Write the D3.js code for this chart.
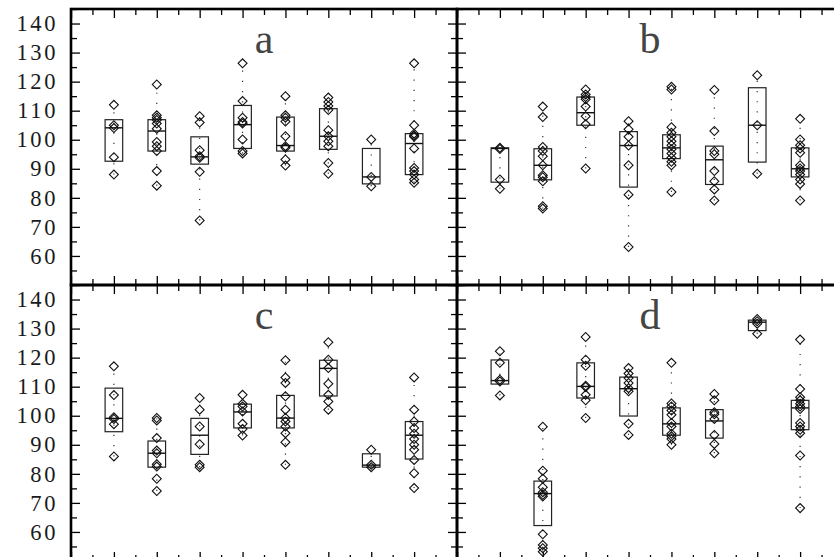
<!DOCTYPE html>
<html>
<head>
<meta charset="utf-8">
<script src="https://cdn.jsdelivr.net/npm/d3@7"></script>
<style>
  body { margin: 0; background: #fff; }
  svg { display: block; }
</style>
</head>
<body>
<script>
// categories along x, one box per category
var groups = [1, 2, 3, 4, 5, 6, 7, 8];
var panelNames = ["a", "b", "c", "d"];
var yTicks = [60, 70, 80, 90, 100, 110, 120, 130, 140];

// individual observations (diamonds), one list per category
var pointsA = [
  [112, 105, 104, 94, 88],
  [119, 108.4, 107.6, 106.8, 105.6, 103.8, 99.2, 97.8, 96.1, 89.2, 84.2],
  [108.1, 105.9, 96.4, 94.3, 93.8, 89.0, 72.2],
  [126.3, 113.3, 107.6, 106.1, 105.6, 100.1, 96.1, 95.3],
  [115.0, 108.4, 107.6, 106.3, 101.2, 97.8, 97.2, 93.2, 91.1],
  [114.5, 113.0, 111.6, 110.2, 103.3, 101.2, 99.5, 97.8, 92.0, 88.3],
  [100.1, 87.2, 84.0],
  [126.3, 105.0, 102.1, 101.5, 101.0, 97.0, 90.3, 89.2, 88.0, 86.3, 85.2]
];
var pointsB = [
  [97.2, 96.8, 86.3, 83.1],
  [111.4, 107.8, 97.5, 96.1, 94.3, 91.2, 87.8, 87.1, 85.7, 77.1, 76.3],
  [117.3, 115.6, 114.7, 113.9, 111.4, 108.1, 105.3, 90.1],
  [106.4, 103.6, 101.0, 98.0, 91.2, 81.1, 63.1],
  [118.2, 117.3, 104.3, 102.4, 101.0, 99.5, 98.1, 96.7, 95.3, 93.8, 92.4, 91.2, 82.0],
  [117.1, 103.0, 96.1, 95.0, 89.2, 85.7, 82.9, 79.1],
  [122.2, 105.0, 88.3],
  [107.2, 100.1, 98.1, 97.0, 95.5, 91.2, 90.1, 89.2, 88.0, 86.3, 84.8, 79.1]
];
var pointsC = [
  [117.0, 107.1, 99.5, 98.9, 97.1, 86.0],
  [99.2, 98.4, 92.3, 88.0, 87.1, 83.3, 82.5, 78.3, 74.1],
  [106.1, 102.1, 96.3, 90.2, 83.1, 82.3],
  [107.2, 104.1, 103.2, 101.5, 97.2, 95.4, 93.2],
  [119.1, 113.2, 111.3, 106.7, 102.1, 99.2, 98.0, 96.3, 94.0, 90.9, 83.1],
  [125.3, 119.3, 116.4, 111.0, 107.2, 104.9, 102.1],
  [88.3, 83.1, 82.3],
  [113.2, 102.1, 98.0, 95.8, 93.8, 92.0, 90.0, 88.3, 84.8, 80.2, 75.1]
];
var pointsD = [
  [122.2, 118.2, 112.4, 111.8, 107.0],
  [96.2, 81.1, 78.3, 75.4, 73.7, 72.8, 72.2, 59.2, 55.5, 54.4, 53.2],
  [127.1, 119.3, 117.2, 110.3, 109.9, 107.2, 105.3, 99.2],
  [116.4, 114.5, 113.0, 111.3, 109.5, 108.4, 97.2, 93.4],
  [118.2, 104.2, 103.2, 101.8, 100.3, 97.5, 96.3, 93.8, 92.9, 92.0, 90.0],
  [107.5, 105.3, 101.2, 100.5, 98.9, 93.4, 90.3, 87.1],
  [133.3, 132.5, 131.7, 128.2],
  [126.2, 109.2, 106.4, 105.3, 104.1, 103.2, 102.3, 97.5, 96.3, 95.2, 94.0, 86.3, 68.2]
];

// boxes: [lower, median, upper]
var boxA = [[92.6, 104.1, 106.9], [96.1, 103.0, 106.9], [91.6, 94.1, 101.0], [97.0, 105.2, 111.8],
            [96.1, 98.0, 107.8], [96.7, 101.2, 110.7], [84.8, 87.2, 97.0], [88.0, 98.7, 102.1]];
var boxB = [[85.4, 97.0, 97.2], [86.2, 91.2, 96.9], [105.0, 109.3, 114.7], [83.7, 98.0, 102.8],
            [93.5, 97.2, 101.7], [84.6, 93.1, 97.8], [92.3, 105.0, 117.9], [87.2, 90.0, 97.2]];
var boxC = [[94.5, 99.1, 109.5], [82.3, 87.1, 91.3], [86.7, 93.3, 99.1], [95.8, 101.3, 104.0],
            [95.8, 99.2, 107.0], [106.8, 116.3, 119.1], [82.3, 83.0, 86.9], [85.1, 93.3, 98.0]];
var boxD = [[110.9, 112.1, 119.2], [62.2, 73.2, 77.5], [106.1, 110.1, 118.2], [99.9, 109.3, 113.3],
            [93.3, 97.2, 102.7], [92.3, 98.2, 102.1], [129.3, 132.2, 132.9], [95.2, 102.7, 105.3]];

var allPoints = [pointsA, pointsB, pointsC, pointsD];
var allBoxes = [boxA, boxB, boxC, boxD];

var width = 834, height = 557;
var panelW = 386, panelH = 276;
var left0 = 71, top0 = 9;

var svg = d3.select("body").append("svg")
    .attr("width", width)
    .attr("height", height)
    .style("background", "#fff");

var majorY = d3.range(50, 146, 10),
    minorY = d3.range(55, 146, 10),
    majorX = d3.range(0, 10, 1),
    minorX = d3.range(0.5, 9, 1);

panelNames.forEach(function(name, i) {
  var col = i % 2, row = Math.floor(i / 2);
  var px = left0 + col * panelW, py = top0 + row * panelH;

  var x = d3.scaleLinear().domain([0, 9]).range([px, px + panelW]);
  var y = d3.scaleLinear().domain([50, 145]).range([py + panelH, py]);

  var g = svg.append("g").attr("class", "panel panel-" + name);

  // inward ticks on all four sides
  function tickAxis(axis, pos, vals, size) {
    var a = g.append("g")
        .attr("transform", pos)
        .call(axis.tickValues(vals).tickSize(-size).tickFormat(""));
    a.select(".domain").remove();
    a.selectAll("line").attr("stroke", "#000").attr("stroke-width", 1.3);
  }
  tickAxis(d3.axisTop(x), "translate(0," + py + ")", majorX, 9);
  tickAxis(d3.axisTop(x), "translate(0," + py + ")", minorX, 6);
  tickAxis(d3.axisBottom(x), "translate(0," + (py + panelH) + ")", majorX, 9);
  tickAxis(d3.axisBottom(x), "translate(0," + (py + panelH) + ")", minorX, 6);
  tickAxis(d3.axisLeft(y), "translate(" + px + ",0)", majorY, 9);
  tickAxis(d3.axisLeft(y), "translate(" + px + ",0)", minorY, 6);
  tickAxis(d3.axisRight(y), "translate(" + (px + panelW) + ",0)", majorY, 9);
  tickAxis(d3.axisRight(y), "translate(" + (px + panelW) + ",0)", minorY, 6);

  // tick labels on the left column only
  if (col === 0) {
    var lab = g.append("g")
        .attr("transform", "translate(" + px + ",0)")
        .call(d3.axisLeft(y).tickValues(yTicks).tickSize(0).tickPadding(13));
    lab.select(".domain").remove();
    lab.selectAll("text")
        .attr("fill", "#1a1a1a")
        .style("font-family", "'Liberation Serif', serif")
        .style("font-size", "22.5px")
        .style("letter-spacing", "2.6px");
  }

  // frame
  g.append("rect")
      .attr("x", px).attr("y", py)
      .attr("width", panelW).attr("height", panelH)
      .attr("fill", "none").attr("stroke", "#000").attr("stroke-width", 2.6);

  // panel letter
  g.append("text")
      .attr("x", (x(0) + x(9)) / 2)
      .attr("y", py + 44)
      .attr("text-anchor", "middle")
      .style("font-family", "'Liberation Serif', serif")
      .style("font-size", "42px")
      .attr("fill", "#444")
      .text(name);

  var pts = allPoints[i], boxes = allBoxes[i];
  var half = (x(1) - x(0)) * 0.205;

  groups.forEach(function(cat, j) {
    var vals = pts[j], b = boxes[j];
    var cx = x(cat);

    // dotted whisker from min to max
    g.append("line")
        .attr("x1", cx).attr("x2", cx)
        .attr("y1", y(d3.min(vals))).attr("y2", y(d3.max(vals)))
        .attr("stroke", "#333").attr("stroke-width", 1.2)
        .attr("stroke-dasharray", "1.2,9");

    g.append("rect")
        .attr("x", cx - half).attr("y", y(b[2]))
        .attr("width", 2 * half).attr("height", y(b[0]) - y(b[2]))
        .attr("fill", "none").attr("stroke", "#222").attr("stroke-width", 1.2);

    g.append("line")
        .attr("x1", cx - half).attr("x2", cx + half)
        .attr("y1", y(b[1])).attr("y2", y(b[1]))
        .attr("stroke", "#111").attr("stroke-width", 1.4);

    g.selectAll(null)
        .data(vals)
        .enter().append("path")
        .attr("d", d3.symbol(d3.symbolSquare, 40))
        .attr("transform", function(d) { return "translate(" + cx + "," + y(d) + ") rotate(45)"; })
        .attr("fill", "none")
        .attr("stroke", "#111")
        .attr("stroke-width", 1.1);
  });
});
</script>
</body>
</html>
